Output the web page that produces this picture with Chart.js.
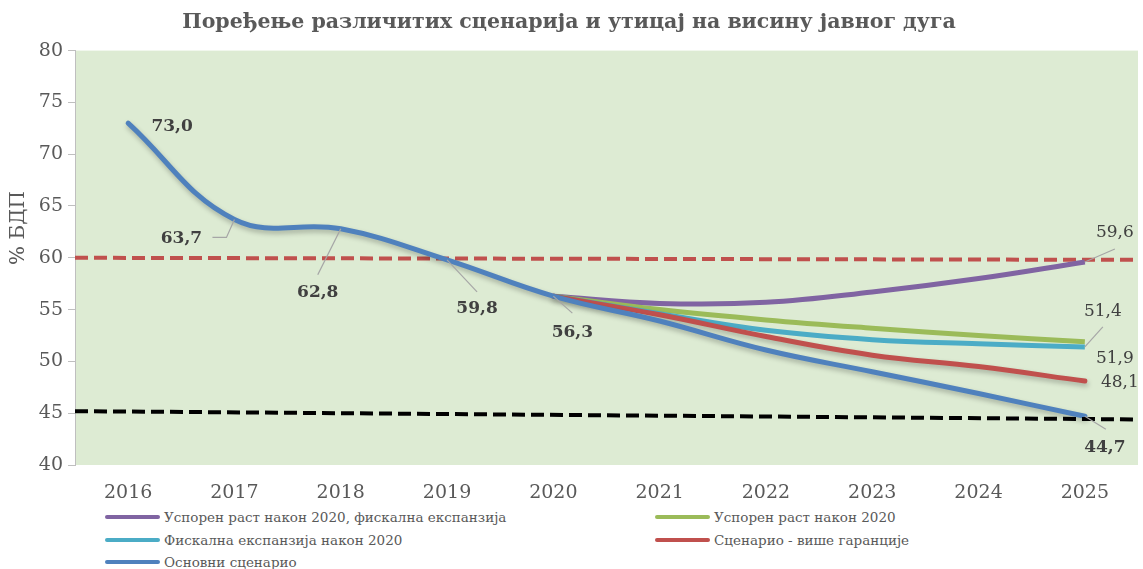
<!DOCTYPE html>
<html>
<head>
<meta charset="utf-8">
<script src="https://cdn.jsdelivr.net/npm/chart.js@4"></script>
<style>
  body { margin: 0; background: #fff; }
  .wrap { position: relative; width: 1143px; height: 569px; }
  #chart { position: absolute; left: 0; top: 0; }
  #legend {
    position: absolute; left: 105px; top: 506px;
    display: grid; grid-template-columns: 550px 400px; row-gap: 0;
    font-family: 'DejaVu Serif', serif; font-size: 13.5px; color: #595959;
  }
  .item { display: flex; align-items: center; height: 22.5px; }
  .swatch { width: 55px; height: 4px; border-radius: 2px; margin-right: 4px; }
</style>
</head>
<body>
<div class="wrap">
  <canvas id="chart" width="1143" height="505"></canvas>
  <div id="legend"></div>
</div>
<script>
// Categories
const years = [2016, 2017, 2018, 2019, 2020, 2021, 2022, 2023, 2024, 2025];

// Scenario series (% БДП); alternative scenarios branch off the base line in 2020
const slowGrowthFiscal = [null, null, null, null, 56.3, 55.6, 55.7, 56.7, 58.0, 59.6];
const slowGrowth       = [null, null, null, null, 56.3, 55.0, 54.0, 53.2, 52.5, 51.9];
const fiscalExpansion  = [null, null, null, null, 56.3, 54.6, 53.0, 52.1, 51.7, 51.4];
const moreGuarantees   = [null, null, null, null, 56.3, 54.5, 52.4, 50.6, 49.5, 48.1];
const baseScenario     = [73.0, 63.7, 62.8, 59.8, 56.3, 53.9, 51.1, 49.0, 46.9, 44.7];

const seriesNames = [
    'Успорен раст након 2020, фискална експанзија',
    'Успорен раст након 2020',
    'Фискална експанзија након 2020',
    'Сценарио - више гаранције',
    'Основни сценарио'
];

// Reference lines, spanning the whole plot width
const refX = [2015.5, 2025.5];
const limit60 = [60.0, 59.8];
const limit45 = [45.2, 44.4];

const yTicks = [40, 45, 50, 55, 60, 65, 70, 75, 80];

const colors = {
    purple: '#8064A2',
    green: '#9BBB59',
    cyan: '#4BACC6',
    red: '#C0504D',
    blue: '#4F81BD',
    text: '#595959',
    label: '#404040',
    leader: '#A6A6A6'
};

const toPoints = (xs, ys) => xs.map((x, i) => ({ x, y: ys[i] }));
const fmt = v => v.toFixed(1).replace('.', ',');

// label placement: dataset index, point index, text offset, bold, leader path
const labelSpecs = [
    { ds: 4, i: 0, dx: 44, dy: 3, bold: true },
    { ds: 4, i: 1, dx: -53, dy: 19, bold: true, leader: [[-8, 18], [-22, 18]] },
    { ds: 4, i: 2, dx: -23, dy: 64, bold: true, leader: [[-23, 46]] },
    { ds: 4, i: 3, dx: 30, dy: 49, bold: true, leader: [[30, 32]] },
    { ds: 4, i: 4, dx: 19, dy: 36, bold: true, leader: [[19, 17]] },
    { ds: 0, i: 9, dx: 30, dy: -29, bold: false, leader: [[30, -13]] },
    { ds: 2, i: 9, dx: 18, dy: -35, bold: false, leader: [[18, -20]] },
    { ds: 1, i: 9, dx: 30, dy: 17, bold: false },
    { ds: 3, i: 9, dx: 35, dy: 1, bold: false },
    { ds: 4, i: 9, dx: 20, dy: 31, bold: true, leader: [[21, 13]] }
];

const plotBackground = {
    id: 'plotBackground',
    beforeDraw(chart) {
        const { ctx, chartArea: a } = chart;
        ctx.save();
        ctx.fillStyle = '#DDEBD3';
        ctx.fillRect(a.left, a.top, a.right - a.left, a.bottom - a.top);
        ctx.restore();
    }
};

// soft drop shadow, only on the lines that have one in the original
const lineShadow = {
    id: 'lineShadow',
    beforeDatasetDraw(chart, args) {
        const ctx = chart.ctx;
        ctx.save();
        if (chart.data.datasets[args.index].shadow) {
            ctx.shadowColor = 'rgba(0,0,0,0.25)';
            ctx.shadowBlur = 5;
            ctx.shadowOffsetX = 1;
            ctx.shadowOffsetY = 3;
        }
    },
    afterDatasetDraw(chart) {
        chart.ctx.restore();
    }
};

// y-axis title, placed where the original has it
const yTitle = {
    id: 'yTitle',
    afterDraw(chart) {
        const ctx = chart.ctx;
        ctx.save();
        ctx.translate(19, 228);
        ctx.rotate(-Math.PI / 2);
        ctx.fillStyle = colors.text;
        ctx.font = '20px "DejaVu Serif"';
        ctx.textAlign = 'center';
        ctx.textBaseline = 'middle';
        ctx.fillText('% БДП', 0, 0);
        ctx.restore();
    }
};

const dataLabels = {
    id: 'dataLabels',
    afterDatasetsDraw(chart) {
        const ctx = chart.ctx;
        ctx.save();
        labelSpecs.forEach(s => {
            const el = chart.getDatasetMeta(s.ds).data[s.i];
            const value = chart.data.datasets[s.ds].data[s.i].y;
            if (s.leader) {
                ctx.strokeStyle = colors.leader;
                ctx.lineWidth = 1.2;
                ctx.beginPath();
                ctx.moveTo(el.x, el.y);
                s.leader.forEach(([lx, ly]) => ctx.lineTo(el.x + lx, el.y + ly));
                ctx.stroke();
            }
            ctx.fillStyle = colors.label;
            ctx.font = (s.bold ? 'bold ' : '') + '17px "DejaVu Serif"';
            ctx.textAlign = 'center';
            ctx.textBaseline = 'middle';
            ctx.fillText(fmt(value), el.x + s.dx, el.y + s.dy);
        });
        ctx.restore();
    }
};

function scenario(idx, values, color, order, shadow) {
    return {
        label: seriesNames[idx],
        data: toPoints(years, values),
        borderColor: color,
        backgroundColor: color,
        borderWidth: 5,
        borderCapStyle: shadow ? 'round' : 'butt',
        pointRadius: 0,
        tension: 0.4,
        shadow,
        order
    };
}

function refLine(values, color, order) {
    return {
        label: '',
        isRef: true,
        data: toPoints(refX, values),
        borderColor: color,
        borderWidth: 4,
        borderDash: [13, 6],
        pointRadius: 0,
        tension: 0,
        order
    };
}

const chart = new Chart(document.getElementById('chart'), {
    type: 'line',
    data: {
        datasets: [
            scenario(0, slowGrowthFiscal, colors.purple, 4, false),
            scenario(1, slowGrowth, colors.green, 3, false),
            scenario(2, fiscalExpansion, colors.cyan, 2, false),
            scenario(3, moreGuarantees, colors.red, 1, true),
            scenario(4, baseScenario, colors.blue, 0, true),
            refLine(limit60, colors.red, 6),
            refLine(limit45, '#000000', -1)
        ]
    },
    options: {
        responsive: false,
        animation: false,
        layout: { padding: { right: 5, top: 0, bottom: 0 } },
        plugins: {
            legend: { display: false },
            tooltip: { enabled: false },
            title: {
                display: true,
                text: 'Поређење различитих сценарија и утицај на висину јавног дуга',
                color: colors.text,
                font: { family: 'DejaVu Serif', size: 20.5, weight: 'bold' },
                padding: { top: 10, bottom: 16 }
            }
        },
        scales: {
            x: {
                type: 'linear',
                min: 2015.5,
                max: 2025.5,
                afterBuildTicks: axis => { axis.ticks = years.map(v => ({ value: v })); },
                afterFit: axis => { axis.height = 40; },
                grid: {
                    display: true,
                    drawOnChartArea: false,
                    drawTicks: true,
                    tickLength: 17,
                    color: 'rgba(0,0,0,0)'
                },
                border: { display: false },
                ticks: {
                    color: colors.text,
                    font: { family: 'DejaVu Serif', size: 19 },
                    padding: 0,
                    maxRotation: 0,
                    callback: v => String(v)
                }
            },
            y: {
                min: 40,
                max: 80,
                afterBuildTicks: axis => { axis.ticks = yTicks.map(v => ({ value: v })); },
                afterFit: axis => { axis.width = 75; },
                grid: { drawOnChartArea: false, color: '#BFBFBF', tickLength: 7 },
                border: { color: '#BFBFBF' },
                ticks: {
                    color: colors.text,
                    font: { family: 'DejaVu Serif', size: 19 },
                    padding: 5
                }
            }
        }
    },
    plugins: [plotBackground, lineShadow, dataLabels, yTitle]
});

// HTML legend in two columns, built from the scenario datasets
const legendEl = document.getElementById('legend');
legendEl.innerHTML = chart.data.datasets
    .filter(ds => !ds.isRef)
    .map(ds => `
        <div class="item">
            <span class="swatch" style="background:${ds.borderColor}"></span>
            <span>${ds.label}</span>
        </div>
    `).join('');
</script>
</body>
</html>
